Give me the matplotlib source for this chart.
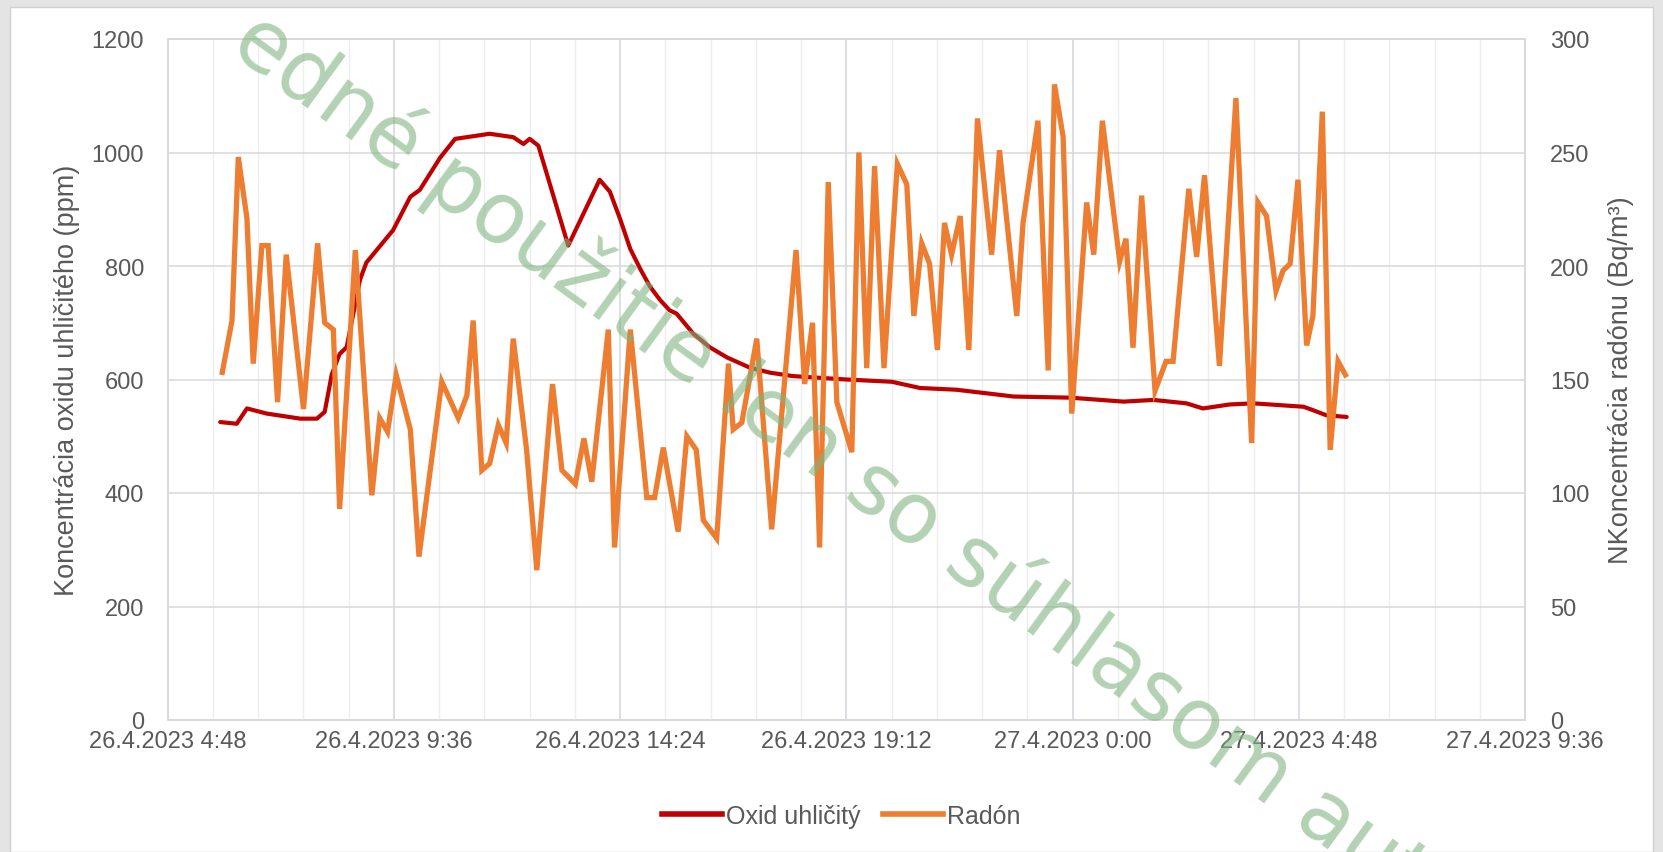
import matplotlib
matplotlib.use('Agg')
import matplotlib.pyplot as plt
import matplotlib.dates as mdates
from matplotlib.ticker import MultipleLocator, FuncFormatter
from matplotlib.patches import Rectangle
from matplotlib.lines import Line2D
import pandas as pd
from datetime import timedelta

# ---------------- data ----------------
co2_times = [
    "2023-04-26 05:55", "2023-04-26 06:16", "2023-04-26 06:29", "2023-04-26 06:54",
    "2023-04-26 07:37", "2023-04-26 07:58", "2023-04-26 08:08", "2023-04-26 08:17",
    "2023-04-26 08:27", "2023-04-26 08:36", "2023-04-26 08:53", "2023-04-26 09:01",
    "2023-04-26 09:35", "2023-04-26 09:57", "2023-04-26 10:09", "2023-04-26 10:35",
    "2023-04-26 10:54", "2023-04-26 11:38", "2023-04-26 12:08", "2023-04-26 12:21",
    "2023-04-26 12:29", "2023-04-26 12:40", "2023-04-26 13:18", "2023-04-26 13:58",
    "2023-04-26 14:11", "2023-04-26 14:24", "2023-04-26 14:37", "2023-04-26 14:50",
    "2023-04-26 15:02", "2023-04-26 15:15", "2023-04-26 15:27", "2023-04-26 15:36",
    "2023-04-26 15:57", "2023-04-26 16:18", "2023-04-26 16:40", "2023-04-26 17:09",
    "2023-04-26 17:35", "2023-04-26 18:04", "2023-04-26 19:12", "2023-04-26 20:10",
    "2023-04-26 20:46", "2023-04-26 21:32", "2023-04-26 22:45", "2023-04-26 23:57",
    "2023-04-27 01:05", "2023-04-27 01:43", "2023-04-27 02:25", "2023-04-27 02:46",
    "2023-04-27 03:20", "2023-04-27 03:50", "2023-04-27 04:54", "2023-04-27 05:06",
    "2023-04-27 05:23", "2023-04-27 05:49",
]
co2_values = [
    525, 522, 549, 540, 531, 531, 543, 609, 645, 657, 776, 806,
    863, 922, 934, 991, 1024, 1033, 1027, 1015, 1024, 1012, 836, 952,
    931, 883, 830, 794, 764, 740, 722, 716, 681, 657, 639, 621,
    612, 606, 600, 596, 585, 582, 570, 568, 561, 564, 558, 549,
    556, 558, 552, 546, 537, 534,
]

radon_times = [
    "2023-04-26 05:57", "2023-04-26 06:10", "2023-04-26 06:18", "2023-04-26 06:29",
    "2023-04-26 06:37", "2023-04-26 06:48", "2023-04-26 06:56", "2023-04-26 07:08",
    "2023-04-26 07:19", "2023-04-26 07:41", "2023-04-26 07:59", "2023-04-26 08:08",
    "2023-04-26 08:19", "2023-04-26 08:27", "2023-04-26 08:47", "2023-04-26 09:08",
    "2023-04-26 09:18", "2023-04-26 09:28", "2023-04-26 09:39", "2023-04-26 09:57",
    "2023-04-26 10:08", "2023-04-26 10:37", "2023-04-26 10:58", "2023-04-26 11:09",
    "2023-04-26 11:17", "2023-04-26 11:28", "2023-04-26 11:38", "2023-04-26 11:49",
    "2023-04-26 11:59", "2023-04-26 12:08", "2023-04-26 12:25", "2023-04-26 12:38",
    "2023-04-26 12:58", "2023-04-26 13:10", "2023-04-26 13:27", "2023-04-26 13:38",
    "2023-04-26 13:48", "2023-04-26 14:09", "2023-04-26 14:17", "2023-04-26 14:37",
    "2023-04-26 14:58", "2023-04-26 15:08", "2023-04-26 15:19", "2023-04-26 15:38",
    "2023-04-26 15:49", "2023-04-26 16:01", "2023-04-26 16:10", "2023-04-26 16:27",
    "2023-04-26 16:42", "2023-04-26 16:48", "2023-04-26 16:59", "2023-04-26 17:18",
    "2023-04-26 17:37", "2023-04-26 18:08", "2023-04-26 18:19", "2023-04-26 18:29",
    "2023-04-26 18:38", "2023-04-26 18:49", "2023-04-26 19:00", "2023-04-26 19:19",
    "2023-04-26 19:28", "2023-04-26 19:38", "2023-04-26 19:48", "2023-04-26 20:00",
    "2023-04-26 20:17", "2023-04-26 20:29", "2023-04-26 20:38", "2023-04-26 20:48",
    "2023-04-26 20:58", "2023-04-26 21:08", "2023-04-26 21:17", "2023-04-26 21:26",
    "2023-04-26 21:37", "2023-04-26 21:48", "2023-04-26 21:59", "2023-04-26 22:17",
    "2023-04-26 22:27", "2023-04-26 22:49", "2023-04-26 22:57", "2023-04-26 23:16",
    "2023-04-26 23:29", "2023-04-26 23:37", "2023-04-26 23:48", "2023-04-26 23:59",
    "2023-04-27 00:18", "2023-04-27 00:27", "2023-04-27 00:38", "2023-04-27 01:00",
    "2023-04-27 01:08", "2023-04-27 01:17", "2023-04-27 01:28", "2023-04-27 01:45",
    "2023-04-27 01:59", "2023-04-27 02:08", "2023-04-27 02:28", "2023-04-27 02:38",
    "2023-04-27 02:48", "2023-04-27 03:07", "2023-04-27 03:28", "2023-04-27 03:48",
    "2023-04-27 03:56", "2023-04-27 04:07", "2023-04-27 04:19", "2023-04-27 04:28",
    "2023-04-27 04:37", "2023-04-27 04:47", "2023-04-27 04:58", "2023-04-27 05:06",
    "2023-04-27 05:18", "2023-04-27 05:28", "2023-04-27 05:38", "2023-04-27 05:49",
]
radon_values = [
    152, 176, 248, 221, 157, 209, 209, 140, 205, 137, 210, 175,
    172, 93, 207, 99, 133, 127, 152, 128, 72, 149, 133, 143,
    176, 110, 113, 130, 122, 168, 119, 66, 148, 110, 104, 124,
    105, 172, 76, 172, 98, 98, 120, 83, 125, 119, 88, 80,
    157, 128, 131, 168, 84, 207, 148, 175, 76, 237, 140, 118,
    250, 155, 244, 155, 245, 236, 178, 210, 201, 163, 219, 205,
    222, 163, 265, 205, 251, 178, 219, 264, 154, 280, 257, 135,
    228, 205, 264, 202, 212, 164, 231, 145, 158, 158, 234, 204,
    240, 156, 274, 122, 228, 222, 189, 198, 201, 238, 165, 178,
    268, 119, 158, 151,
]

series_names = ["Oxid uhličitý", "Radón"]
x_range = ["2023-04-26 04:48", "2023-04-27 09:36"]
left_label = "Koncentrácia oxidu uhličitého (ppm)"
right_label = "NKoncentrácia radónu (Bq/m³)"
watermark = "edné použitie len so súhlasom autora"

# ---------------- style ----------------
FONT = ['Liberation Sans', 'DejaVu Sans']
plt.rcParams['font.family'] = FONT
TXT = '#595959'
GRID = '#d9d9d9'
CO2_C = '#C00000'
RN_C = '#ED7D31'

W, H = 1663, 853
fig = plt.figure(figsize=(W / 100, H / 100), dpi=100)
fig.patch.set_facecolor('#e4e4e4')
fig.patches.append(Rectangle((10 / W, 0), (1653 - 10) / W, 1 - 8 / H,
                             transform=fig.transFigure, facecolor='white',
                             edgecolor='#d0d0d0', lw=1, zorder=-10))

left, right, top, bottom = 167.6, 1525, 40, 721
ax = fig.add_axes([left / W, 1 - bottom / H, (right - left) / W, (bottom - top) / H])
ax.set_facecolor('none')
ax2 = ax.twinx()

t_co2 = pd.to_datetime(co2_times)
t_rn = pd.to_datetime(radon_times)

ax.plot(t_co2, co2_values, color=CO2_C, lw=3.0, solid_joinstyle='round',
        solid_capstyle='round', zorder=3)
ax2.plot(t_rn, radon_values, color=RN_C, lw=3.8, solid_joinstyle='miter',
         solid_capstyle='butt', zorder=3)

ax.set_xlim(pd.to_datetime(x_range[0]), pd.to_datetime(x_range[1]))
ax.set_ylim(0, 1200)
ax2.set_ylim(0, 300)
ax.yaxis.set_major_locator(MultipleLocator(200))
ax2.yaxis.set_major_locator(MultipleLocator(50))
ax.xaxis.set_major_locator(MultipleLocator(0.2))
ax.xaxis.set_minor_locator(MultipleLocator(0.04))


def fmt(x, pos):
    d = mdates.num2date(x) + timedelta(seconds=30)
    return f"{d.day}.{d.month}.{d.year} {d.hour}:{d.minute:02d}"


ax.xaxis.set_major_formatter(FuncFormatter(fmt))

ax.grid(True, which='major', axis='y', color=GRID, lw=1.1)
ax.grid(True, which='major', axis='x', color='#d2d6dc', lw=1.1)
ax.grid(True, which='minor', axis='x', color='#eeeeee', lw=1.0)
ax.set_axisbelow(True)

for a in (ax, ax2):
    for s in a.spines.values():
        s.set_color(GRID)
        s.set_linewidth(1.1)
    a.tick_params(which='both', length=0, colors=TXT, labelsize=17)

ax.tick_params(axis='y', pad=17)
ax2.tick_params(axis='y', pad=18)
ax.tick_params(axis='x', pad=7)
for lab in ax2.get_yticklabels():
    lab.set_horizontalalignment('left')

ax.set_ylabel(left_label, fontsize=19.5, color=TXT)
ax.yaxis.set_label_coords(-0.0645, 0.5)
ax2.set_ylabel(right_label, fontsize=19.5, color=TXT, rotation=90)
ax2.yaxis.set_label_coords(1.0612, 0.5)

handles = [Line2D([], [], color=CO2_C, lw=4), Line2D([], [], color=RN_C, lw=4)]
fig.legend(handles, series_names, loc='center', bbox_to_anchor=(0.506, 0.042),
           ncol=2, frameon=False, fontsize=18, labelcolor=TXT,
           handlelength=2.4, handletextpad=0.15, columnspacing=0.9)

fig.text(228 / W, 1 - 50 / H, watermark, rotation=-36, rotation_mode='anchor',
         ha='left', va='baseline', fontsize=61, color='#80b380', alpha=0.6,
         family=['DejaVu Sans'], zorder=20)

fig.savefig('out.png', dpi=100, facecolor=fig.get_facecolor())
